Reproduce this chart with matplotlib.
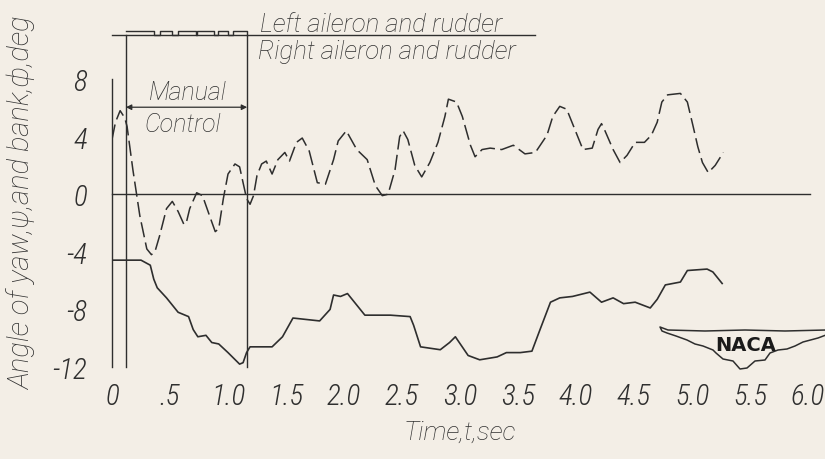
import matplotlib
matplotlib.use("Agg")
import matplotlib.pyplot as plt
from matplotlib import font_manager as fm
from matplotlib.patches import Polygon

# ---- data -------------------------------------------------------------
# yaw angle psi (deg) vs time (s)
yaw_t = [0.00, 0.25, 0.33, 0.36, 0.39, 0.47, 0.57, 0.66, 0.70, 0.74, 0.81,
         0.86, 0.92, 1.00, 1.10, 1.13, 1.16, 1.19, 1.38, 1.47, 1.56, 1.79,
         1.88, 1.91, 1.97, 2.03, 2.18, 2.40, 2.57, 2.60, 2.66, 2.83, 2.91,
         2.96, 3.07, 3.17, 3.32, 3.40, 3.52, 3.62, 3.69, 3.78, 3.86, 3.97,
         4.12, 4.22, 4.32, 4.41, 4.51, 4.64, 4.70, 4.77, 4.90, 4.96, 5.13,
         5.18, 5.26]
yaw_deg = [-4.58, -4.58, -4.93, -5.9, -6.5, -7.2, -8.2, -8.5, -9.4, -9.9, -9.8,
           -10.3, -10.4, -11.0, -11.8, -11.7, -11.0, -10.6, -10.6, -9.9, -8.6, -8.8,
           -8.0, -7.0, -7.1, -6.9, -8.4, -8.4, -8.5, -9.1, -10.6, -10.8, -10.3,
           -9.9, -11.2, -11.5, -11.3, -11.0, -11.0, -10.9, -9.4, -7.5, -7.2, -7.1,
           -6.8, -7.5, -7.2, -7.6, -7.5, -7.9, -7.3, -6.3, -6.1, -5.3, -5.2,
           -5.4, -6.2]

# angle of bank phi (deg) vs time (s)
bank_t = [0.00, 0.03, 0.07, 0.11, 0.13, 0.18, 0.24, 0.30, 0.34, 0.37, 0.41,
          0.47, 0.52, 0.57, 0.62, 0.64, 0.67, 0.73, 0.78, 0.85, 0.89, 0.92,
          0.96, 1.00, 1.06, 1.10, 1.13, 1.16, 1.19, 1.22, 1.25, 1.29, 1.33,
          1.38, 1.43, 1.49, 1.53, 1.59, 1.64, 1.70, 1.77, 1.84, 1.91, 1.95,
          2.02, 2.11, 2.20, 2.27, 2.33, 2.38, 2.44, 2.48, 2.51, 2.55, 2.61,
          2.67, 2.74, 2.81, 2.87, 2.90, 2.97, 3.02, 3.09, 3.13, 3.19, 3.26,
          3.36, 3.46, 3.56, 3.65, 3.75, 3.80, 3.86, 3.92, 3.99, 4.06, 4.14,
          4.19, 4.22, 4.25, 4.32, 4.38, 4.44, 4.51, 4.59, 4.65, 4.70, 4.74,
          4.79, 4.90, 4.96, 5.01, 5.05, 5.09, 5.14, 5.20, 5.27]
bank_deg = [3.8, 5.0, 5.8, 5.3, 4.7, 1.7, -1.5, -3.8, -4.2, -4.0, -2.9,
            -1.0, -0.5, -1.2, -2.1, -2.0, -1.0, 0.1, -0.1, -1.7, -2.6, -2.4,
            -0.3, 1.4, 2.1, 1.9, 0.8, -0.3, -0.7, -0.1, 1.3, 2.1, 2.3,
            1.4, 2.4, 2.9, 2.3, 3.6, 3.9, 3.0, 0.8, 0.7, 2.4, 3.7,
            4.4, 3.1, 2.4, 0.6, -0.1, 0.0, 1.7, 4.0, 4.4, 3.8, 2.0,
            1.2, 2.2, 3.6, 5.4, 6.6, 6.4, 5.4, 3.4, 2.6, 3.1, 3.2,
            3.1, 3.4, 2.8, 2.9, 4.1, 5.4, 6.1, 5.9, 4.5, 3.1, 3.2,
            4.5, 4.9, 4.4, 3.1, 2.2, 2.7, 3.6, 3.6, 4.1, 5.0, 6.4,
            6.9, 7.0, 6.4, 4.7, 3.3, 2.2, 1.5, 2.0, 2.9]

# manual-control interval (s) and aileron/rudder switch record
manual_start, manual_end = 0.12, 1.165
ctrl_t = [0.12, 0.36, 0.41, 0.52, 0.57, 0.72, 0.73, 0.88, 0.91, 1.00, 1.04, 1.165]
ctrl_left = [1, 0, 1, 0, 1, 0, 1, 0, 1, 0, 1, 0]

x_ticks = [0, 0.5, 1.0, 1.5, 2.0, 2.5, 3.0, 3.5, 4.0, 4.5, 5.0, 5.5, 6.0]
x_tick_labels = ["0", ".5", "1.0", "1.5", "2.0", "2.5", "3.0", "3.5",
                 "4.0", "4.5", "5.0", "5.5", "6.0"]
y_ticks = [-12, -8, -4, 0, 4, 8]
y_tick_labels = ["-12", "-8", "-4", "0", "4", "8"]

# ---- style ------------------------------------------------------------
BG = "#f3eee6"
INK = "#2e2e2e"
TXT = "#2f2f2f"

available = {f.name for f in fm.fontManager.ttflist}


def pick(cands):
    for c in cands:
        if c in available:
            return c
    return "DejaVu Sans"


NARROW = pick(["Roboto Condensed", "Liberation Sans Narrow", "Roboto"])
WIDE = pick(["Roboto", "Lato", "Open Sans"])
plt.rcParams["font.family"] = [NARROW, "DejaVu Sans"]
narrow = dict(style="italic", weight="light", color=TXT,
              family=[NARROW, "DejaVu Sans"])
wide = dict(style="italic", weight="light", color=TXT,
            family=[WIDE, "DejaVu Sans"])

W, H = 825, 460
fig = plt.figure(figsize=(W / 100, H / 100), dpi=100, facecolor=BG)

# plot frame in pixel geometry: t=0..6 -> x 112..808, deg -12..8 -> y 368..80
ax = fig.add_axes([112 / W, 1 - 368 / H, 696 / W, 288 / H])
ax.set_facecolor("none")
ax.set_xlim(0, 6)
ax.set_ylim(-12, 8)
for s in ax.spines.values():
    s.set_visible(False)
ax.set_xticks(x_ticks, x_tick_labels, fontsize=21, **narrow)
ax.set_yticks(y_ticks, y_tick_labels, fontsize=21, **narrow)
ax.tick_params(axis="both", length=0)
ax.tick_params(axis="x", pad=11)
ax.tick_params(axis="y", pad=18)

line_kw = dict(color=INK, lw=1.0, clip_on=False)

# reference lines
ax.plot([0, 6.02], [0, 0], **line_kw)
ax.plot([0, 0], [-12, 8], **line_kw)
ax.plot([manual_start, manual_start], [-12, 11.04], **line_kw)
ax.plot([manual_end, manual_end], [-12, 11.04], **line_kw)
ax.plot([0, 3.65], [11.04, 11.04], **line_kw)

# aileron/rudder switch record along the top line
levels = [11.04 + 0.3 * s for s in ctrl_left]
ax.step(ctrl_t, levels, where="post", **line_kw)

# manual control bracket
ax.annotate("", xy=(manual_start, 6.04), xytext=(manual_end, 6.04),
            arrowprops=dict(arrowstyle="<|-|>", color=INK, lw=0.9,
                            mutation_scale=8, shrinkA=0, shrinkB=0),
            annotation_clip=False)
ax.text(0.65, 7.1, "Manual", ha="center", va="center", fontsize=18, **wide)
ax.text(0.61, 4.85, "Control", ha="center", va="center", fontsize=18, **wide)

# legend lettering above / below the switch line
ax.text(1.276, 11.3, "Left aileron and rudder", ha="left", va="baseline",
        fontsize=18.5, clip_on=False, **wide)
ax.text(1.26, 10.75, "Right aileron and rudder", ha="left", va="top",
        fontsize=18.5, clip_on=False, **wide)

# time histories
ax.plot(yaw_t, yaw_deg, color=INK, lw=1.2, solid_joinstyle="round")
ax.plot(bank_t, bank_deg, color=INK, lw=1.1, linestyle=(0, (10, 3.5)))

ax.set_xlabel("Time,t,sec", fontsize=19, labelpad=7, **wide)
fig.text(22 / W, 1 - 203 / H, "Angle of yaw,\u03c8,and bank,\u03d5,deg",
         rotation=90, ha="center", va="center", fontsize=21, **wide)

# NACA wing emblem (pixel coordinates)
lg = fig.add_axes([0, 0, 1, 1])
lg.set_xlim(0, W)
lg.set_ylim(H, 0)
lg.axis("off")
lg.set_facecolor("none")
wing = [(660, 328), (668, 331), (705, 332), (745, 331), (785, 332), (826, 331),
        (826, 336), (818, 339), (803, 343), (795, 347), (787, 350), (778, 351),
        (770, 354), (765, 361), (755, 362), (747, 369), (740, 370), (733, 362),
        (723, 360), (716, 354), (713, 351), (703, 347), (695, 345), (687, 341),
        (676, 337), (667, 334), (662, 332)]
lg.add_patch(Polygon(wing, closed=True, facecolor="none", edgecolor=INK,
                     lw=1.1, joinstyle="round"))
lg.text(746, 346, "NACA", ha="center", va="center", fontsize=14,
        fontweight="bold", family="DejaVu Sans", color="#1a1a1a")

fig.savefig("out.png", dpi=100, facecolor=BG)
